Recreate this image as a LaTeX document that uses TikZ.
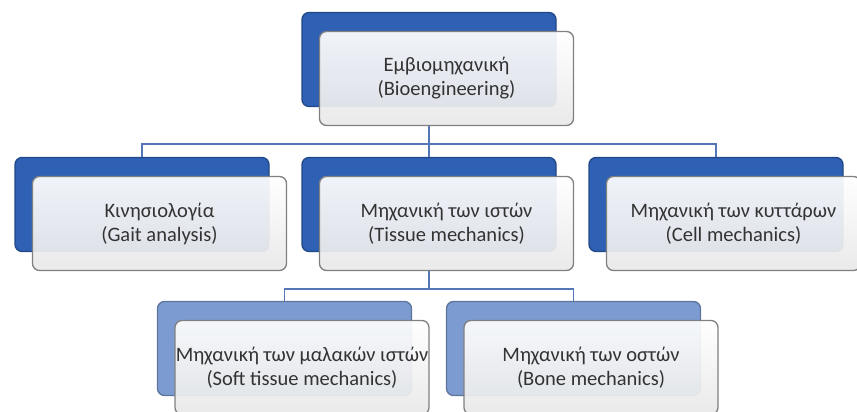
\documentclass[tikz,border=0pt]{standalone}
\usepackage{fontspec}
\setmainfont{Carlito}
\usetikzlibrary{shadows}
\definecolor{dkblue}{RGB}{46,96,180}
\definecolor{ltblue}{RGB}{124,155,208}
\definecolor{linkblue}{RGB}{84,118,182}
\begin{document}
\begin{tikzpicture}[
      x=1pt, y=1pt,
      level 1/.style={sibling distance=287pt},
      level 2/.style={sibling distance=289pt, level distance=144pt},
      panel/.style={draw=black!50, line width=1.3pt, rounded corners=7pt,
        top color=white, bottom color=black!9, fill opacity=.93, text opacity=1,
        minimum width=254pt, minimum height=94pt, inner sep=0pt, align=center,
        text=black!80, font={\fontsize{20.5}{24}\selectfont}},
      blueback/.style={general shadow={fill=#1, draw=#1!75!black, fill opacity=1,
        shadow xshift=-17.5pt, shadow yshift=19pt}},
      unit/.style={panel, blueback=dkblue},
      subunit/.style={panel, blueback=ltblue},
      edge from parent/.style={draw=linkblue, line width=1.8pt},
      edge from parent path={(\tikzparentnode.south) ++(-17.5pt,0) -- ++(0,-17.5pt)
        -| ([xshift=-17.5pt,yshift=19pt]\tikzchildnode.north)},
      level distance=145pt
  ]
  \useasboundingbox (0,0) rectangle (857,-412);
  \node[unit] (bio) at (446.5,-78.5) {Εμβιομηχανική\\(Bioengineering)}
  child {
    node[unit] (kin) {Κινησιολογία\\(Gait analysis)}
  }
  child {
    node[unit] (tis) {Μηχανική των ιστών\\(Tissue mechanics)}
    child {
      node[subunit] (soft) {Μηχανική των μαλακών ιστών\\(Soft tissue mechanics)}
    }
    child {
      node[subunit] (bone) {Μηχανική των οστών\\(Bone mechanics)}
    }
  }
  child {
    node[unit] (cell) {Μηχανική των κυττάρων\\(Cell mechanics)}
  };
\end{tikzpicture}
\end{document}
